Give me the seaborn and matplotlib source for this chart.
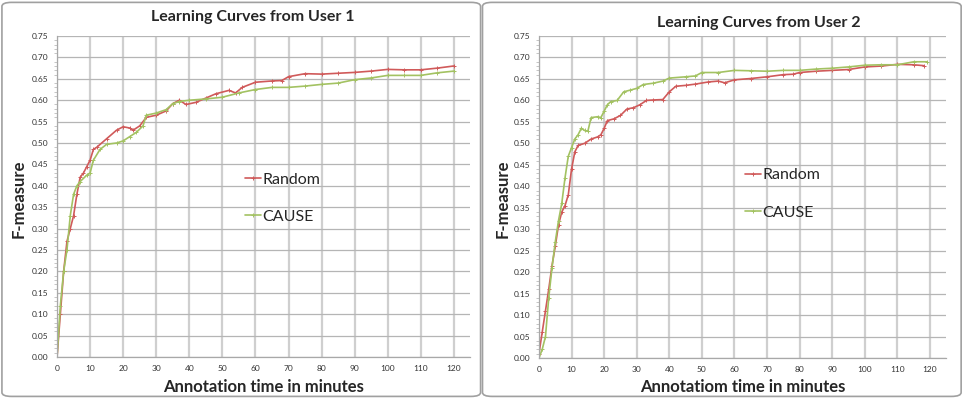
import pandas as pd
import numpy as np
import seaborn as sns
import matplotlib.pyplot as plt
from matplotlib.patches import FancyBboxPatch

# user 1
u1_rand_t = [0, 1, 2, 3, 4, 5, 6, 7, 8, 9, 10, 11, 12, 15, 18, 20, 22, 23, 25, 27, 30, 33, 35, 37, 39, 42, 45, 48,
             52, 54, 56, 60, 65, 68, 70, 75, 80, 85, 90, 95, 100, 105, 110, 115, 120]
u1_rand = [0.0, 0.10, 0.20, 0.27, 0.30, 0.33, 0.38, 0.42, 0.43, 0.445, 0.46, 0.485, 0.49, 0.51, 0.53, 0.538, 0.535,
           0.53, 0.54, 0.56, 0.565, 0.575, 0.592, 0.60, 0.59, 0.595, 0.605, 0.615, 0.623, 0.617, 0.63, 0.642, 0.645,
           0.646, 0.655, 0.662, 0.661, 0.663, 0.665, 0.668, 0.672, 0.671, 0.671, 0.675, 0.68]
u1_cause_t = [0, 1, 2, 3, 4, 5, 6, 7, 9, 10, 11, 13, 15, 18, 20, 22, 24, 26, 27, 30, 33, 35, 37, 40, 45, 50, 55, 60,
              65, 70, 75, 80, 85, 90, 95, 100, 105, 110, 115, 120]
u1_cause = [0.0, 0.12, 0.20, 0.25, 0.33, 0.38, 0.40, 0.41, 0.425, 0.43, 0.46, 0.485, 0.497, 0.50, 0.505, 0.515,
            0.525, 0.54, 0.565, 0.57, 0.578, 0.592, 0.597, 0.60, 0.603, 0.607, 0.617, 0.625, 0.63, 0.63, 0.633,
            0.637, 0.64, 0.648, 0.652, 0.658, 0.658, 0.658, 0.664, 0.668]

# user 2
u2_rand_t = [0, 1, 2, 3, 4, 5, 6, 7, 8, 9, 10, 11, 12, 14, 16, 18, 19, 20, 21, 23, 25, 27, 29, 31, 33, 35, 38, 40,
             42, 45, 48, 52, 55, 57, 60, 65, 70, 75, 78, 80, 85, 90, 95, 100, 105, 110, 115, 118]
u2_rand = [0.01, 0.06, 0.11, 0.16, 0.215, 0.26, 0.31, 0.34, 0.355, 0.38, 0.44, 0.48, 0.495, 0.50, 0.51, 0.515,
           0.52, 0.535, 0.553, 0.557, 0.565, 0.58, 0.583, 0.59, 0.60, 0.601, 0.602, 0.62, 0.633, 0.635, 0.638,
           0.643, 0.645, 0.641, 0.648, 0.651, 0.655, 0.66, 0.661, 0.665, 0.668, 0.67, 0.672, 0.678, 0.68, 0.684,
           0.683, 0.681]
u2_cause_t = [0, 1, 2, 3, 4, 5, 6, 7, 8, 9, 10, 11, 12, 13, 14, 15, 16, 18, 19, 20, 21, 22, 24, 26, 28, 30, 32, 35,
              38, 40, 45, 48, 50, 55, 60, 65, 70, 75, 80, 85, 90, 95, 100, 105, 110, 115, 119]
u2_cause = [0.0, 0.02, 0.05, 0.14, 0.21, 0.27, 0.32, 0.36, 0.42, 0.47, 0.49, 0.51, 0.52, 0.535, 0.53, 0.528, 0.56,
            0.562, 0.56, 0.575, 0.59, 0.597, 0.60, 0.62, 0.624, 0.628, 0.637, 0.64, 0.645, 0.652, 0.655, 0.657,
            0.665, 0.665, 0.67, 0.669, 0.668, 0.67, 0.67, 0.673, 0.675, 0.678, 0.682, 0.683, 0.683, 0.69, 0.69]

titles = ['Learning Curves from User 1', 'Learning Curves from User 2']
xlabels = ['Annotation time in minutes', 'Annotatiom time in minutes']

sns.set_style('white')
plt.rcParams['font.family'] = ['Lato', 'DejaVu Sans']

red = '#d05a5a'
green = '#a3c262'

fig = plt.figure(figsize=(9.65, 3.98), dpi=100)

# panel frames
for x0 in [0.002, 0.5]:
    fig.patches.append(FancyBboxPatch((x0, 0.004), 0.496, 0.99, boxstyle='round,pad=0,rounding_size=0.01',
                                      transform=fig.transFigure, fill=False, edgecolor='#a0a0a0', lw=1.2))

axes = [fig.add_axes([0.0591, 0.103, 0.428, 0.8065]), fig.add_axes([0.5585, 0.1005, 0.4218, 0.809])]
panels = [(u1_rand_t, u1_rand, u1_cause_t, u1_cause), (u2_rand_t, u2_rand, u2_cause_t, u2_cause)]

for i, ax in enumerate(axes):
    rt, rv, ct, cv = panels[i]
    df_r = pd.DataFrame({'t': rt, 'f': rv})
    df_c = pd.DataFrame({'t': ct, 'f': cv})
    sns.lineplot(data=df_r, x='t', y='f', ax=ax, color=red, lw=1.2, marker='+', markersize=2.2,
                 markeredgewidth=0.7, markeredgecolor=red, label='Random')
    sns.lineplot(data=df_c, x='t', y='f', ax=ax, color=green, lw=1.2, marker='+', markersize=2.2,
                 markeredgewidth=0.7, markeredgecolor=green, label='CAUSE')
    ax.set_xlim(0, 124.9)
    ax.set_ylim(0, 0.75)
    ax.set_xticks(np.arange(0, 121, 10))
    ax.set_yticks(np.arange(0, 0.751, 0.05))
    ax.set_yticks(np.arange(0, 0.751, 0.01), minor=True)
    ax.set_yticklabels(['%.2f' % v for v in np.arange(0, 0.751, 0.05)])
    ax.tick_params(axis='both', labelsize=6, labelcolor='#333333', length=0, pad=6)
    ax.tick_params(axis='y', which='minor', length=2, color='#bbbbbb', left=True)
    ax.grid(axis='x', color='#cfcfcf', lw=1.6)
    ax.grid(axis='y', color='#b5b5b5', lw=0.9)
    ax.set_axisbelow(True)
    for s in ['top', 'right']:
        ax.spines[s].set_visible(False)
    for s in ['left', 'bottom']:
        ax.spines[s].set_color('#a8a8a8')
        ax.spines[s].set_linewidth(0.9)
    ax.set_xlabel('')
    ax.set_ylabel('')
    ax.legend(frameon=False, fontsize=11.5, handlelength=1.0, handletextpad=0.1, labelspacing=1.45,
              loc='upper left', bbox_to_anchor=(0.44 if i == 0 else 0.49, 0.595 if i == 0 else 0.61),
              borderaxespad=0)

fig.text(0.262, 0.958, titles[0], ha='center', va='center', fontsize=11.5, fontweight='bold')
fig.text(0.786, 0.943, titles[1], ha='center', va='center', fontsize=11.5, fontweight='bold')
fig.text(0.273, 0.027, xlabels[0], ha='center', va='center', fontsize=12, fontweight='bold')
fig.text(0.770, 0.027, xlabels[1], ha='center', va='center', fontsize=12, fontweight='bold')
fig.text(0.019, 0.50, 'F-measure', ha='center', va='center', rotation=90, fontsize=12, fontweight='bold')
fig.text(0.521, 0.50, 'F-measure', ha='center', va='center', rotation=90, fontsize=12, fontweight='bold')

plt.savefig('out.png', dpi=100)
